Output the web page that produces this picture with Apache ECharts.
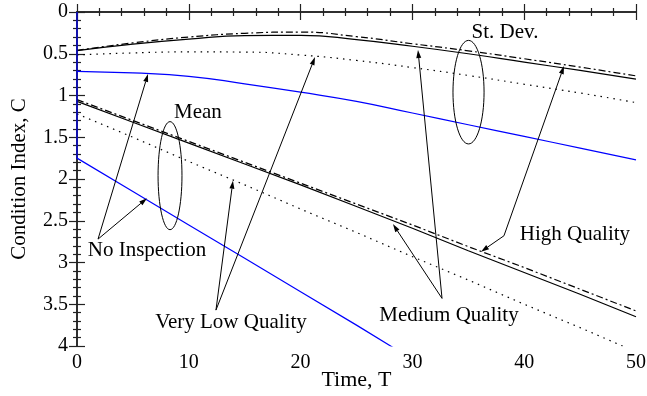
<!DOCTYPE html>
<html>
<head>
<meta charset="utf-8">
<script src="https://cdn.jsdelivr.net/npm/echarts@6/dist/echarts.min.js"></script>
<style>
  html, body { margin: 0; padding: 0; background: #fff; }
  #chart { width: 647px; height: 396px; }
</style>
</head>
<body>
<div id="chart"></div>
<script>
// time axis samples
const timeT = [0, 5, 10, 15, 20, 25, 30, 35, 40, 45, 50];

// mean condition index
const meanHigh    = [0.46, 0.37, 0.30, 0.255, 0.24, 0.295, 0.38, 0.465, 0.56, 0.66, 0.765];
const meanMedium  = [0.463, 0.385, 0.325, 0.283, 0.28, 0.33, 0.41, 0.50, 0.60, 0.70, 0.805];
const meanVeryLow = [0.515, 0.49, 0.478, 0.48, 0.515, 0.58, 0.665, 0.76, 0.865, 0.97, 1.085];
const meanNoInsp  = [0.71, 0.73, 0.77, 0.86, 0.96, 1.07, 1.21, 1.35, 1.49, 1.63, 1.77];

// standard deviation
const sdHigh    = [1.05, 1.30, 1.55, 1.80, 2.05, 2.30, 2.55, 2.81, 3.06, 3.32, 3.58];
const sdMedium  = [1.07, 1.32, 1.57, 1.82, 2.07, 2.33, 2.59, 2.86, 3.12, 3.38, 3.65];
const sdVeryLow = [1.22, 1.50, 1.79, 2.07, 2.36, 2.64, 2.93, 3.21, 3.50, 3.78, 4.07];
const sdNoInspT = [0, 0, 5, 10, 15, 20, 25, 30];
const sdNoInsp  = [0, 1.75, 2.15, 2.55, 2.95, 3.35, 3.75, 4.16];

// annotations (data coordinates)
const labels = [
  { text: 'Mean', at: [10.82, 1.20] },
  { text: 'St. Dev.', at: [38.28, 0.25] },
  { text: 'No Inspection', at: [6.26, 2.86] },
  { text: 'Very Low Quality', at: [13.77, 3.72] },
  { text: 'Medium Quality', at: [33.27, 3.64] },
  { text: 'High Quality', at: [44.54, 2.67] }
];
const pointers = [
  { base: [1.88, 2.72], tips: [[6.35, 0.742], [6.26, 2.23]] },
  { base: [12.43, 3.57], tips: [[13.95, 2.02], [21.29, 0.54]] },
  { base: [32.65, 3.43], tips: [[28.26, 2.54], [30.5, 0.455]] },
  { base: [38.19, 2.68], tips: [[36.14, 2.87], [43.56, 0.647]] }
];
const ellipses = [
  { c: [8.32, 1.96], r: [1.07, 0.647] },
  { c: [35.02, 0.96], r: [1.39, 0.62] }
];

const FONT = '"Liberation Serif", "Times New Roman", serif';
const zip = (xs, ys) => xs.map((x, i) => [x, ys[i]]);

const chart = echarts.init(document.getElementById('chart'));

function lineSeries(data, color, type, smooth) {
  return {
    type: 'line',
    data: data,
    xAxisIndex: 0,
    yAxisIndex: 0,
    showSymbol: false,
    smooth: smooth,
    silent: true,
    lineStyle: { color: color, width: 1.2, type: type },
    z: 3
  };
}

const tickCommon = {
  axisLine: { show: true, lineStyle: { color: '#222', width: 1.5 } },
  axisTick: { show: true, inside: true, length: 8, lineStyle: { color: '#222', width: 1.2 } },
  minorTick: { show: true, splitNumber: 5, length: 4, lineStyle: { color: '#222', width: 1.2 } },
  splitLine: { show: false },
  minorSplitLine: { show: false }
};

const option = {
  animation: false,
  backgroundColor: '#fff',
  grid: { left: 77, right: 11, top: 12, bottom: 50, containLabel: false, outerBoundsMode: 'none' },
  xAxis: [
    Object.assign({
      type: 'value', min: 0, max: 50, interval: 10, position: 'bottom',
      name: 'Time, T', nameLocation: 'middle', nameGap: 23, nameMoveOverlap: false,
      nameTextStyle: { fontFamily: FONT, fontSize: 22, color: '#000' },
      axisLabel: { fontFamily: FONT, fontSize: 20, color: '#000', margin: 7 }
    }, tickCommon),
    Object.assign({
      type: 'value', min: 0, max: 50, interval: 10, position: 'top',
      axisLabel: { show: false }
    }, tickCommon)
  ],
  yAxis: [
    Object.assign({
      type: 'value', min: 0, max: 4, interval: 0.5, inverse: true, position: 'left',
      name: 'Condition Index, C', nameLocation: 'middle', nameGap: 47, nameMoveOverlap: false,
      nameTextStyle: { fontFamily: FONT, fontSize: 21, color: '#000' },
      axisLabel: { fontFamily: FONT, fontSize: 20, color: '#000', margin: 9 }
    }, tickCommon),
    Object.assign({
      type: 'value', min: 0, max: 4, interval: 0.5, inverse: true, position: 'right',
      axisLabel: { show: false }
    }, tickCommon)
  ],
  series: [
    lineSeries(zip(timeT, meanHigh), '#000', [7, 3, 2, 3], 0.5),
    lineSeries(zip(timeT, meanMedium), '#000', 'solid', 0.5),
    lineSeries(zip(timeT, meanVeryLow), '#000', [1.5, 5], 0.5),
    lineSeries(zip(timeT, meanNoInsp), '#0000ff', 'solid', 0.5),
    lineSeries(zip(timeT, sdHigh), '#000', [7, 3, 2, 3], false),
    lineSeries(zip(timeT, sdMedium), '#000', 'solid', false),
    lineSeries(zip(timeT, sdVeryLow), '#000', [1.5, 5], false),
    lineSeries(zip(sdNoInspT, sdNoInsp), '#0000ff', 'solid', false)
  ]
};
chart.setOption(option);

// annotation layer
const px = p => chart.convertToPixel({ xAxisIndex: 0, yAxisIndex: 0 }, p);
const graphics = [];

labels.forEach(l => {
  const p = px(l.at);
  graphics.push({
    type: 'text', silent: true, z: 10,
    style: { text: l.text, x: p[0], y: p[1], align: 'center', verticalAlign: 'middle',
             font: '21px ' + FONT, fill: '#000' }
  });
});

pointers.forEach(g => {
  const b = px(g.base);
  g.tips.forEach(t => {
    const e = px(t);
    const dx = e[0] - b[0], dy = e[1] - b[1];
    const len = Math.sqrt(dx * dx + dy * dy);
    const ux = dx / len, uy = dy / len;
    const hl = 8, hw = 2.5;
    const bx = e[0] - ux * hl, by = e[1] - uy * hl;
    graphics.push({
      type: 'line', silent: true, z: 10,
      shape: { x1: b[0], y1: b[1], x2: bx, y2: by },
      style: { stroke: '#000', lineWidth: 1 }
    });
    graphics.push({
      type: 'polygon', silent: true, z: 10,
      shape: { points: [[e[0], e[1]], [bx - uy * hw, by + ux * hw], [bx + uy * hw, by - ux * hw]] },
      style: { fill: '#000' }
    });
  });
});

ellipses.forEach(el => {
  const c = px(el.c);
  const edge = px([el.c[0] + el.r[0], el.c[1] + el.r[1]]);
  graphics.push({
    type: 'ellipse', silent: true, z: 10,
    shape: { cx: c[0], cy: c[1], rx: Math.abs(edge[0] - c[0]), ry: Math.abs(edge[1] - c[1]) },
    style: { fill: 'none', stroke: '#000', lineWidth: 1 }
  });
});

chart.setOption({ graphic: graphics });
</script>
</body>
</html>
